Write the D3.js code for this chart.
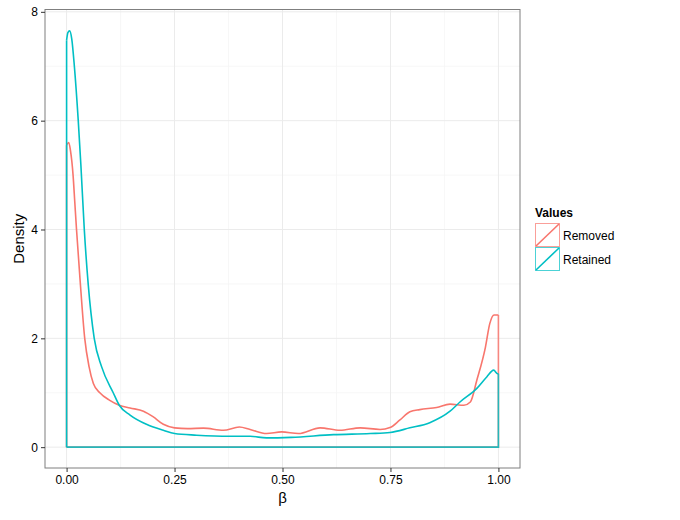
<!DOCTYPE html>
<html><head><meta charset="utf-8">
<script src="https://cdn.jsdelivr.net/npm/d3@7"></script>
<style>body{margin:0;background:#fff;} svg{display:block;font-family:"Liberation Sans",Arial,sans-serif;}</style>
</head><body>
<svg id="c" width="680" height="520"></svg>
<script>
const seriesNames = ["Removed", "Retained"];
const colors = ["#F8766D", "#00BFC4"];
const xTicks = [0, 0.25, 0.5, 0.75, 1];
const xTickLabels = ["0.00", "0.25", "0.50", "0.75", "1.00"];
const yTicks = [0, 2, 4, 6, 8];
const removedX = [0,0.005,0.009,0.015,0.019,0.023,0.031,0.042,0.052,0.062,0.077,0.1,0.122,0.147,0.178,0.2,0.224,0.25,0.28,0.317,0.363,0.4,0.425,0.463,0.498,0.537,0.587,0.633,0.68,0.726,0.749,0.772,0.795,0.818,0.857,0.888,0.92,0.935,0.95,0.97,0.98,0.99,1.0];
const removedY = [5.55,5.6,5.45,5.0,4.5,4.0,3.1,2.0,1.48,1.17,1.0,0.86,0.77,0.72,0.66,0.56,0.42,0.355,0.34,0.35,0.31,0.37,0.325,0.25,0.28,0.25,0.355,0.31,0.355,0.325,0.36,0.5,0.65,0.69,0.73,0.79,0.77,0.83,1.23,1.84,2.27,2.43,2.43];
const retainedX = [0,0.003,0.007,0.012,0.018,0.027,0.033,0.041,0.05,0.064,0.081,0.108,0.122,0.147,0.185,0.224,0.25,0.301,0.378,0.425,0.463,0.52,0.618,0.703,0.749,0.795,0.841,0.888,0.911,0.95,0.973,0.989,0.998,1.0];
const retainedY = [7.48,7.62,7.65,7.5,7.0,6.0,5.2,4.0,3.0,2.0,1.48,1.0,0.77,0.59,0.42,0.31,0.25,0.22,0.2,0.2,0.17,0.18,0.23,0.25,0.27,0.355,0.45,0.66,0.83,1.08,1.29,1.415,1.35,1.35];

const svg = d3.select("#c");
const L = 45, R = 520, T = 9.5, B = 468;
const x = d3.scaleLinear().domain([-0.05, 1.05]).range([L, R]);
const y = d3.scaleLinear().domain([-0.383, 8.043]).range([B, T]);

// panel grid
const g = svg.append("g");
const minorX = [0.125, 0.375, 0.625, 0.875];
const minorY = [1, 3, 5, 7];
g.selectAll(".mx").data(minorX).join("line").attr("x1", d => x(d)).attr("x2", d => x(d)).attr("y1", T).attr("y2", B).attr("stroke", "#f5f5f5").attr("stroke-width", 0.8);
g.selectAll(".my").data(minorY).join("line").attr("y1", d => y(d)).attr("y2", d => y(d)).attr("x1", L).attr("x2", R).attr("stroke", "#f5f5f5").attr("stroke-width", 0.8);
g.selectAll(".Mx").data(xTicks).join("line").attr("x1", d => x(d)).attr("x2", d => x(d)).attr("y1", T).attr("y2", B).attr("stroke", "#ebebeb").attr("stroke-width", 1);
g.selectAll(".My").data(yTicks).join("line").attr("y1", d => y(d)).attr("y2", d => y(d)).attr("x1", L).attr("x2", R).attr("stroke", "#ebebeb").attr("stroke-width", 1);

// curves
const series = [
  {xs: removedX, ys: removedY, c: colors[0]},
  {xs: retainedX, ys: retainedY, c: colors[1]}
];
const curveLine = d3.line().x(d => x(d[0])).y(d => y(d[1])).curve(d3.curveMonotoneX);
const lin = d3.line().x(d => x(d[0])).y(d => y(d[1]));
series.forEach(s => {
  const pts = s.xs.map((v, i) => [v, s.ys[i]]);
  const first = pts[0], last = pts[pts.length - 1];
  svg.append("path").attr("d", lin([[first[0], 0], first])).attr("fill", "none").attr("stroke", s.c).attr("stroke-width", 1.6);
  svg.append("path").attr("d", curveLine(pts)).attr("fill", "none").attr("stroke", s.c).attr("stroke-width", 1.6).attr("stroke-linejoin", "round");
  svg.append("path").attr("d", lin([last, [last[0], 0], [first[0], 0]])).attr("fill", "none").attr("stroke", s.c).attr("stroke-width", 1.6).attr("stroke-opacity", 0.85);
});

// panel border
svg.append("rect").attr("x", L).attr("y", T).attr("width", R - L).attr("height", B - T).attr("fill", "none").attr("stroke", "#7f7f7f").attr("stroke-width", 1);

// axes
const xAxis = d3.axisBottom(x).tickValues(xTicks).tickFormat((d, i) => xTickLabels[i]).tickSize(4).tickPadding(3);
const xa = svg.append("g").attr("transform", `translate(0,${B})`).call(xAxis);
xa.select(".domain").remove();
xa.selectAll("line").attr("stroke", "#333");
xa.selectAll("text").attr("font-size", 12).attr("fill", "#000").attr("font-family", "Liberation Sans, Arial, sans-serif");
const yAxis = d3.axisLeft(y).tickValues(yTicks).tickSize(4).tickPadding(3);
const ya = svg.append("g").attr("transform", `translate(${L},0)`).call(yAxis);
ya.select(".domain").remove();
ya.selectAll("line").attr("stroke", "#333");
ya.selectAll("text").attr("font-size", 12).attr("fill", "#000").attr("font-family", "Liberation Sans, Arial, sans-serif");

svg.append("text").attr("x", (L + R) / 2).attr("y", 503).attr("text-anchor", "middle").attr("font-size", 15).text("β");
svg.append("text").attr("transform", `translate(24,${(T + B) / 2}) rotate(-90)`).attr("text-anchor", "middle").attr("font-size", 15).text("Density");

// legend
const lg = svg.append("g");
lg.append("text").attr("x", 535).attr("y", 217).attr("font-size", 12).attr("font-weight", "bold").text("Values");
seriesNames.forEach((n, i) => {
  const y0 = 223 + i * 24;
  lg.append("rect").attr("x", 535.5).attr("y", y0 + 0.5).attr("width", 24).attr("height", 23).attr("fill", "#fff").attr("stroke", colors[i]).attr("stroke-opacity", 0.7).attr("stroke-width", 1);
  lg.append("line").attr("x1", 536).attr("y1", y0 + 23).attr("x2", 559).attr("y2", y0 + 1).attr("stroke", colors[i]).attr("stroke-width", 1.6);
  lg.append("text").attr("x", 563).attr("y", y0 + 17).attr("font-size", 12).text(n);
});
</script>
</body></html>
